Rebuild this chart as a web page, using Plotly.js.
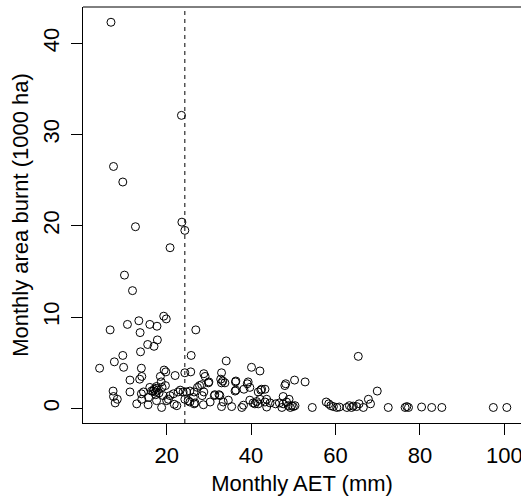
<!DOCTYPE html>
<html>
<head>
<meta charset="utf-8">
<script src="https://cdn.plot.ly/plotly-3.0.1.min.js"></script>
<style>html,body{margin:0;padding:0;background:#fff;overflow:hidden}#chart{width:521px;height:504px}</style>
</head>
<body>
<div id="chart"></div>
<script>
// Monthly AET (mm)
const aet = [6.8,23.5,7.4,9.6,12.6,23.6,24.3,20.8,10.0,11.9,
6.6,10.7,13.4,13.7,16.0,17.7,19.3,19.9,17.8,15.5,
17.0,13.8,9.6,7.6,26.9,25.8,34.1,65.4,4.1,9.8,
14.0,19.4,19.8,24.3,25.7,28.8,29.1,33.0,40.1,42.1,
11.3,13.6,14.1,18.5,22.0,32.8,33.3,50.3,18.7,16.0,
18.9,19.7,27.3,27.8,28.3,30.0,33.0,33.8,36.3,36.4,
39.3,39.1,39.7,48.0,48.2,52.8,38.3,42.5,43.3,17.5,
17.6,17.0,16.8,17.3,17.8,18.2,17.4,7.3,7.4,8.3,
11.3,14.0,14.5,14.1,15.7,16.4,19.2,20.4,20.8,21.6,
22.7,23.2,23.9,24.7,25.5,24.3,25.1,26.3,26.5,28.4,
28.8,31.4,32.4,34.6,36.2,41.7,42.3,43.7,47.6,49.0,
67.8,69.9,17.6,20.0,7.8,12.9,15.6,18.8,21.8,22.4,
25.5,26.7,28.7,30.3,33.4,33.0,35.4,37.8,38.2,39.7,
40.5,41.3,41.7,42.1,43.3,43.7,44.5,45.8,46.7,47.3,
47.6,48.4,48.8,49.3,49.6,50.0,50.4,54.5,57.8,58.4,
58.9,59.5,60.3,60.9,62.7,63.3,63.8,64.2,65.0,65.6,
66.6,68.3,72.5,76.5,76.9,77.3,80.4,82.8,85.2,97.4,
100.6,29.9,31.3,32.6,36.4,40.9,26.5];
// Monthly area burnt (1000 ha)
const area = [42.3,32.1,26.5,24.8,19.9,20.4,19.5,17.6,14.6,12.9,
8.6,9.2,9.6,8.3,9.2,9.0,10.1,9.8,7.5,7.0,
6.8,6.2,5.8,5.1,8.6,5.8,5.2,5.7,4.4,4.5,
4.4,4.2,4.0,3.9,4.0,3.8,3.5,3.9,4.5,4.1,
3.1,3.2,3.5,3.5,3.6,3.2,3.0,3.1,2.9,2.3,
2.3,2.5,2.3,2.5,2.6,2.9,2.8,2.8,2.9,3.0,
2.9,2.7,2.3,2.5,2.7,2.9,2.1,2.1,2.1,2.2,
2.4,2.1,1.9,1.8,2.0,1.7,1.5,1.9,1.3,1.0,
1.8,1.6,1.8,1.0,1.2,1.9,1.4,1.0,1.4,1.6,
1.8,2.0,1.8,1.8,1.9,1.0,0.85,1.2,1.8,1.4,
1.8,1.5,1.5,0.9,1.9,1.8,2.0,1.0,1.3,1.0,
1.0,1.9,0.85,0.85,0.6,0.5,0.4,0.1,0.45,0.3,
0.7,0.6,0.4,0.7,0.7,0.2,0.2,0.1,0.35,0.9,
0.6,0.75,0.5,1.0,0.7,0.15,0.6,0.5,0.6,0.1,
0.5,0.7,0.3,0.1,0.3,0.2,0.3,0.1,0.7,0.5,
0.3,0.2,0.1,0.15,0.1,0.3,0.1,0.25,0.2,0.5,
0.1,0.5,0.1,0.1,0.2,0.1,0.15,0.1,0.1,0.1,
0.1,2.8,1.4,1.4,2.0,0.5,0.5];
const aetThreshold = 24.3;
const xTicks = [20, 40, 60, 80, 100];
const yTicks = [0, 10, 20, 30, 40];

const font = {family: 'Liberation Sans, Arial, sans-serif', size: 22, color: '#000'};

const trace = {
  x: aet, y: area, type: 'scatter', mode: 'markers',
  marker: {symbol: 'circle-open', size: 8, color: '#000', line: {width: 1, color: '#000'}},
  hoverinfo: 'x+y'
};

const layout = {
  width: 521, height: 504,
  margin: {l: 83, r: 0, t: 7, b: 81, pad: 0},
  paper_bgcolor: '#fff', plot_bgcolor: '#fff',
  font: font,
  showlegend: false,
  xaxis: {
    range: [0.17, 103.96], tickvals: xTicks, ticktext: xTicks.map(String),
    showgrid: false, zeroline: false, showline: true, linecolor: '#000', linewidth: 1,
    ticks: 'outside', ticklen: 11, tickwidth: 1, tickcolor: '#000',
    tickfont: font, ticklabelstandoff: 2, ticklabeloverflow: 'allow',
    title: {text: 'Monthly AET (mm)', font: font, standoff: 8}
  },
  yaxis: {
    range: [-1.6, 43.97], tickvals: yTicks, ticktext: yTicks.map(String),
    showgrid: false, zeroline: false, showline: true, linecolor: '#000', linewidth: 1,
    ticks: 'outside', ticklen: 11, tickwidth: 1, tickcolor: '#000',
    tickangle: -90, tickfont: font, ticklabelstandoff: 3, ticklabeloverflow: 'allow',
    title: {text: 'Monthly area burnt (1000 ha)', font: font, standoff: 4}
  },
  shapes: [
    {type: 'line', xref: 'paper', yref: 'paper', x0: 0, x1: 1, y0: 1, y1: 1,
     line: {color: '#000', width: 1}},
    {type: 'line', xref: 'x', yref: 'paper', x0: aetThreshold, x1: aetThreshold, y0: 0, y1: 1,
     line: {color: '#000', width: 1, dash: '4px,4px'}}
  ]
};

Plotly.newPlot('chart', [trace], layout, {displayModeBar: false});
</script>
</body>
</html>
